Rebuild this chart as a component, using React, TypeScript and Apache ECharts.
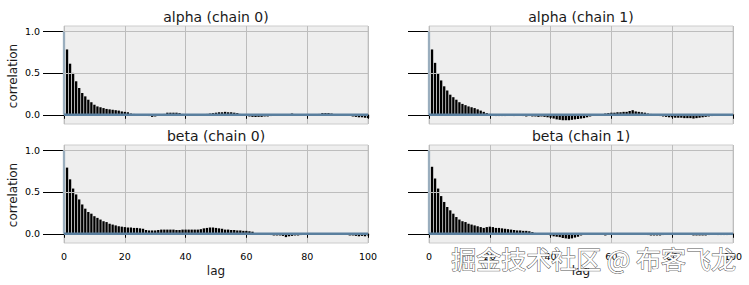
import React, { useEffect, useRef } from "react";
import * as echarts from "echarts";

const panelTitles = ["alpha (chain 0)", "alpha (chain 1)", "beta (chain 0)", "beta (chain 1)"];
const xTickValues = [0, 20, 40, 60, 80, 100];
const yTickValues = [0, 0.5, 1.0];

// autocorrelation at lags 0..100
const alphaChain0 = [
  1.0, 0.78, 0.61, 0.5, 0.4, 0.32, 0.26, 0.22, 0.18, 0.15,
  0.12, 0.1, 0.09, 0.08, 0.07, 0.065, 0.06, 0.055, 0.05, 0.04,
  0.035, 0.03, 0.015, 0.01, 0.005, 0.0, -0.005, -0.01, -0.015, -0.025,
  -0.02, -0.005, 0.005, 0.01, 0.025, 0.025, 0.025, 0.025, 0.02, 0.01,
  0.0, -0.005, 0.0, 0.005, 0.0, -0.005, 0.005, 0.01, 0.015, 0.02,
  0.025, 0.03, 0.03, 0.035, 0.03, 0.03, 0.025, 0.02, 0.01, 0.0,
  -0.01, -0.02, -0.025, -0.025, -0.025, -0.025, -0.02, -0.02, -0.015, -0.005,
  0.0, 0.005, 0.0, -0.005, 0.005, 0.015, 0.005, 0.0, -0.005, 0.0,
  0.005, 0.005, 0.0, 0.005, 0.01, 0.02, 0.02, 0.02, 0.015, 0.005,
  0.0, -0.005, -0.005, 0.0, -0.01, -0.02, -0.025, -0.03, -0.03, -0.035,
  -0.04,
];
const alphaChain1 = [
  1.0, 0.78, 0.62, 0.49, 0.41, 0.34, 0.29, 0.24, 0.21, 0.18,
  0.15, 0.13, 0.115, 0.1, 0.09, 0.08, 0.065, 0.05, 0.035, 0.02,
  0.01, -0.01, -0.015, -0.015, -0.015, -0.015, -0.01, -0.01, -0.015, -0.01,
  -0.005, -0.015, -0.02, -0.015, -0.02, -0.02, -0.025, -0.02, -0.025, -0.03,
  -0.035, -0.045, -0.055, -0.06, -0.065, -0.065, -0.065, -0.06, -0.055, -0.05,
  -0.045, -0.04, -0.03, -0.02, -0.01, -0.005, 0.0, 0.005, 0.015, 0.02,
  0.025, 0.025, 0.03, 0.03, 0.035, 0.035, 0.045, 0.055, 0.04, 0.035,
  0.03, 0.025, 0.015, 0.01, 0.005, -0.005, -0.015, -0.02, -0.025, -0.03,
  -0.03, -0.035, -0.035, -0.035, -0.04, -0.04, -0.04, -0.045, -0.04, -0.035,
  -0.03, -0.025, -0.02, -0.015, -0.005, 0.0, 0.005, 0.0, -0.005, 0.0,
  0.005,
];
const betaChain0 = [
  1.0, 0.79, 0.65, 0.54, 0.47, 0.41, 0.35, 0.3, 0.26, 0.24,
  0.21, 0.19, 0.17, 0.15, 0.14, 0.12, 0.11, 0.1, 0.09, 0.085,
  0.08, 0.075, 0.075, 0.07, 0.07, 0.065, 0.06, 0.045, 0.04, 0.04,
  0.04, 0.045, 0.05, 0.05, 0.05, 0.05, 0.05, 0.045, 0.045, 0.05,
  0.05, 0.05, 0.05, 0.05, 0.05, 0.055, 0.065, 0.07, 0.075, 0.075,
  0.07, 0.065, 0.06, 0.05, 0.05, 0.045, 0.045, 0.04, 0.04, 0.035,
  0.035, 0.03, 0.025, 0.01, 0.005, 0.0, -0.005, -0.01, -0.015, -0.02,
  -0.02, -0.02, -0.025, -0.04, -0.03, -0.025, -0.02, -0.02, -0.015, -0.01,
  -0.005, 0.0, -0.005, 0.0, 0.005, 0.0, -0.005, 0.0, 0.005, 0.0,
  -0.005, 0.0, 0.0, -0.01, -0.02, -0.02, -0.025, -0.03, -0.025, -0.03,
  -0.02,
];
const betaChain1 = [
  1.0, 0.8, 0.66, 0.54, 0.45, 0.38, 0.32, 0.28, 0.24, 0.2,
  0.17, 0.15, 0.14, 0.12, 0.11, 0.1, 0.09, 0.08, 0.07, 0.08,
  0.085, 0.08, 0.07, 0.07, 0.065, 0.06, 0.055, 0.05, 0.045, 0.04,
  0.04, 0.035, 0.035, 0.03, 0.02, 0.01, 0.005, 0.0, -0.005, -0.01,
  -0.02, -0.03, -0.035, -0.04, -0.05, -0.055, -0.06, -0.055, -0.045, -0.035,
  -0.02, -0.01, -0.005, 0.0, 0.005, 0.0, -0.005, -0.01, -0.02, -0.01,
  0.0, 0.005, 0.0, -0.005, 0.0, 0.005, 0.0, 0.0, -0.005, 0.0,
  -0.005, -0.01, -0.015, -0.02, -0.02, -0.02, -0.02, -0.015, -0.01, 0.0,
  -0.005, 0.0, 0.005, 0.0, -0.005, 0.0, -0.01, -0.02, -0.02, -0.02,
  -0.02, -0.02, -0.015, -0.005, -0.01, -0.015, -0.015, -0.015, -0.015, -0.01,
  -0.005,
];

const panelSeries = [alphaChain0, alphaChain1, betaChain0, betaChain1];

const FONT = "DejaVu Sans";

export default function App() {
  const ref = useRef<HTMLDivElement>(null);
  useEffect(() => {
    if (!ref.current) return;
    const chart = echarts.init(ref.current, null, { renderer: "svg" });
    const lefts = [64, 429, 64, 429];
    const tops = [26, 26, 145, 145];
    const W = 304;
    const H = 98;
    const grids = lefts.map((l, i) => ({
      left: l,
      top: tops[i],
      width: W,
      height: H,
      show: true,
      backgroundColor: "#eeeeee",
      borderColor: "#cccccc",
      borderWidth: 1,
    }));
    const xAxes = lefts.map((_, i) => ({
      type: "value",
      gridIndex: i,
      min: 0,
      max: 100,
      interval: 20,
      axisLine: { show: false },
      axisTick: { show: true, length: 4, lineStyle: { color: "#000", width: 1 } },
      axisLabel: {
        show: i >= 2,
        margin: 8,
        fontSize: 9.5,
        color: "#000",
        fontFamily: FONT,
        formatter: (v: number) => (xTickValues.includes(v) ? String(v) : ""),
      },
      splitLine: { show: true, lineStyle: { color: "#bdbdbd", width: 1 } },
    }));
    const yAxes = lefts.map((_, i) => ({
      type: "value",
      gridIndex: i,
      min: -0.11,
      max: 1.06,
      axisLine: { show: false },
      axisTick: { show: true, length: 21, customValues: yTickValues, lineStyle: { color: "#000", width: 1 } },
      axisLabel: {
        show: i % 2 === 0,
        customValues: yTickValues,
        margin: 24,
        fontSize: 9.5,
        color: "#000",
        fontFamily: FONT,
        formatter: (v: number) => v.toFixed(1),
      },
      splitLine: { show: false },
    }));
    const series: any[] = [];
    panelSeries.forEach((vals, i) => {
      series.push({
        type: "line",
        xAxisIndex: i,
        yAxisIndex: i,
        data: [],
        silent: true,
        z: 1,
        markLine: {
          silent: true,
          symbol: "none",
          label: { show: false },
          lineStyle: { color: "#bdbdbd", width: 1, type: "solid" },
          data: yTickValues.filter((v) => v !== 0).map((v) => ({ yAxis: v })),
        },
      });
      series.push({
        type: "bar",
        xAxisIndex: i,
        yAxisIndex: i,
        barWidth: 2.3,
        clip: true,
        z: 2,
        itemStyle: { color: "#000" },
        data: vals.map((v, lag) =>
          lag === 0 ? { value: [lag, v], itemStyle: { color: "#9aaebe" } } : [lag, v]
        ),
      });
      series.push({
        type: "line",
        xAxisIndex: i,
        yAxisIndex: i,
        data: [
          [0, 0],
          [100, 0],
        ],
        symbol: "none",
        silent: true,
        z: 3,
        lineStyle: { color: "#5a7f9e", width: 2.6 },
      });
    });
    const centers = lefts.map((l) => l + W / 2);
    const graphic: any[] = [];
    panelTitles.forEach((t, i) => {
      graphic.push({
        type: "text",
        x: centers[i],
        y: i < 2 ? 17 : 136,
        style: { text: t, font: `14px '${FONT}'`, fill: "#1a1a1a", align: "center", verticalAlign: "middle" },
      });
    });
    [76, 195].forEach((cy) => {
      graphic.push({
        type: "text",
        x: 13,
        y: cy,
        rotation: Math.PI / 2,
        style: { text: "correlation", font: `12px '${FONT}'`, fill: "#1a1a1a", align: "center", verticalAlign: "middle" },
      });
    });
    [centers[2], centers[3]].forEach((cx) => {
      graphic.push({
        type: "text",
        x: cx,
        y: 271,
        style: { text: "lag", font: `12px '${FONT}'`, fill: "#1a1a1a", align: "center", verticalAlign: "middle" },
      });
    });
    graphic.push({
      type: "text",
      x: 736,
      y: 258,
      z: 100,
      style: {
        text: "掘金技术社区 @ 布客飞龙",
        font: "25px 'Noto Sans CJK SC'",
        fill: "#ffffff",
        stroke: "#555555",
        lineWidth: 1,
        align: "right",
        verticalAlign: "middle",
      },
    });
    chart.setOption({
      animation: false,
      backgroundColor: "#ffffff",
      grid: grids,
      xAxis: xAxes,
      yAxis: yAxes,
      series,
      graphic,
    });
    return () => chart.dispose();
  }, []);
  return (
    <div
      ref={ref}
      style={{ position: "fixed", left: 0, top: 0, width: 749, height: 285 }}
    />
  );
}
